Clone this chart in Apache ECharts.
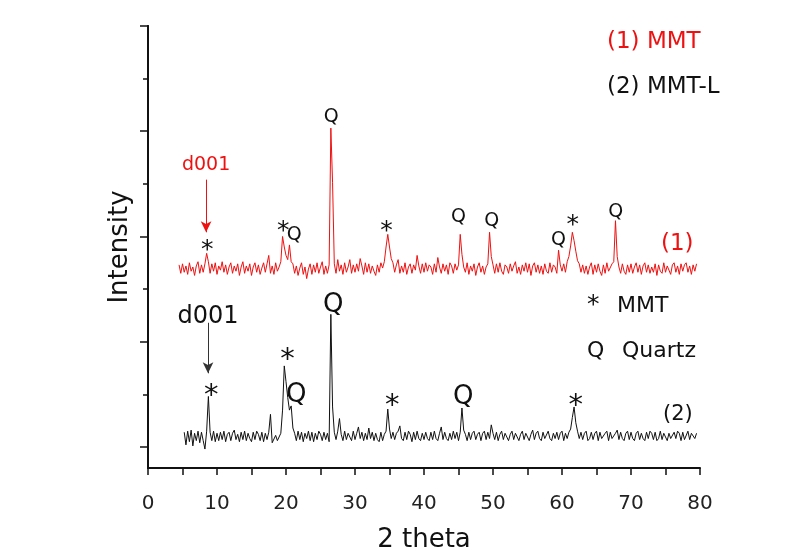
<!DOCTYPE html>
<html><head><meta charset="utf-8">
<script src="https://cdn.jsdelivr.net/npm/echarts@6/dist/echarts.min.js"></script>
<style>html,body{margin:0;padding:0;background:#fff}#c{width:798px;height:558px}</style>
</head><body><div id="c"></div>
<script>
// 2-theta sampling grid (degrees)
const thetaStart = 4.5;
const thetaStep = 0.25;

// (1) MMT intensity (a.u., offset curve)
const mmt = [173,165,
174,166,172,164, 175,167,171,163, 172,176,165,173, 166,174,184,176,
165,174,167,175, 164,172,168,176, 166,173,164,171, 175,165,172,167,
174,163,171,176, 165,172,167,174, 163,171,175,166, 173,164,170,175,
166,174,182,165, 172,164,175,167, 171,176,200,190, 182,178,192,176,
174,165,172,163, 170,175,164,171, 160,169,174,164, 173,166,175,165,
171,176,164,172, 165,173,303,251, 174,165,178,167, 173,164,175,166,
171,178,165,173, 166,174,167,179, 172,164,175,166, 174,165,172,167,
163,173,166,175, 170,176,190,202, 190,179,175,166, 173,178,165,172,
166,175,164,171, 174,165,173,168, 182,172,165,174, 166,175,167,173,
171,164,174,166, 180,171,165,174, 167,173,164,175, 172,165,174,168,
173,202,183,171, 166,175,164,172, 167,174,163,171, 175,166,172,164,
171,174,204,181, 173,165,174,166, 175,167,164,173, 171,165,174,167,
172,176,165,171, 164,173,167,175, 166,174,163,172, 175,166,173,165,
172,164,174,167, 165,175,166,173, 171,165,187,173, 167,174,166,176,
181,191,204,196, 186,177,174,166, 173,165,172,164, 171,175,164,173,
166,174,167,163, 173,165,175,167, 166,174,176,215, 181,171,165,174,
167,164,173,166, 174,165,171,175, 166,173,164,172, 175,166,173,165,
171,166,174,163, 173,167,165,175, 166,172,171,164, 173,175,166,172,
164,174,167,173, 175,166,172,164, 173,167,174];

// (2) MMT-L intensity (a.u.)
const mmtL = [null,null,
null,14,2,15, 5,16,1,13, 6,15,4,14, 6,-2,15,48,
14,6,15,5, 13,6,14,7, 15,5,12,14, 6,13,16,7,
12,5,14,7, 15,6,13,8, 5,14,7,15, 12,6,14,5,
13,7,14,31, 4,3,11,6, 5,13,35,77, 62,47,35,39,
18,13,6,15, 7,14,5,13, 8,15,6,14, 5,13,7,15,
12,6,14,7, 13,5,126,38, 14,7,15,27, 12,6,15,7,
13,14,6,15, 7,13,19,8, 14,6,13,7, 18,8,14,6,
13,7,5,14, 6,12,15,36, 17,8,14,7, 13,15,20,8,
6,14,7,15, 12,5,14,7, 15,8,6,13, 7,14,8,6,
14,7,15,8, 6,13,19,7, 14,8,6,13, 7,15,8,14,
6,14,37,16, 12,6,14,7, 13,15,7,12, 14,6,13,15,
7,14,8,21, 13,7,14,6, 12,15,7,13, 14,6,12,15,
7,13,14,6, 12,15,7,13, 14,6,12,16, 7,13,15,8,
6,14,8,7, 15,8,6,13, 8,14,7,13, 15,6,13,8,
14,17,28,38, 23,15,8,14, 7,13,15,6, 8,14,7,13,
15,6,14,8, 7,13,15,6, 14,8,7,13, 16,7,14,8,
6,13,15,7, 14,8,6,13, 15,7,13,8, 6,14,8,15,
13,7,14,6, 8,15,7,13, 14,6,13,8, 7,14,8,15,
13,6,14,7, 8,15,7,13, 14,8,13];

// peak markers: [2theta, intensity, text]
const mmtMarks = [[8.57,187,'*'],[19.6,205,'*'],[21.2,201,'Q'],[26.57,313,'Q'],[34.55,205,'*'],
  [45.0,218,'Q'],[49.8,215,'Q'],[59.5,197,'Q'],[61.56,210,'*'],[67.8,223,'Q']];
const mmtLMarks = [[9.15,48,'*'],[20.2,82,'*'],[21.5,49,'Q'],[26.86,135,'Q'],[35.4,38,'*'],
  [45.7,47,'Q'],[62.0,38,'*']];
// d001 labels and arrows: [2theta, labelY, arrowFrom, arrowTo]
const d001Red = [8.42, 268, 254, 204];
const d001Black = [8.7, 124, 118, 70];
const curveTags = [[76.7,193,'(1)'],[76.8,31,'(2)']];
const xTicks = [0,10,20,30,40,50,60,70,80];
const yMajor = [0,100,200,300,400];
const yMinor = [50,150,250,350];

const RED = '#ee1111';
const INK = '#111';
const FONT = 'DejaVu Sans';

const pts = arr => arr.map((v,i)=>[thetaStart + i*thetaStep, v]);
const markItems = (arr, qSize, starSize) => arr.map(m => ({value:[m[0],m[1]],
  label:{formatter:m[2], fontSize: m[2]==='*' ? starSize : qSize, color:INK}}));
const labelSeries = data => ({type:'scatter',symbolSize:0,silent:true,data:data,
  itemStyle:{opacity:1},
  label:{show:true,position:'inside',opacity:1,fontFamily:FONT,textBorderWidth:0}});

const chart = echarts.init(document.getElementById('c'));
chart.setOption({
  animation:false,
  backgroundColor:'#fff',
  textStyle:{fontFamily:FONT},
  grid:{left:148,right:98,top:26,bottom:90},
  xAxis:{type:'value',min:0,max:80,interval:5,
    name:'2 theta',nameLocation:'middle',nameGap:59,
    nameTextStyle:{fontSize:26,color:INK,fontFamily:FONT},
    axisLine:{onZero:false,lineStyle:{color:INK,width:2}},
    axisTick:{length:7,lineStyle:{color:INK,width:1.5}},
    axisLabel:{margin:26,fontSize:20,color:'#222',fontFamily:FONT,
      formatter:v=> xTicks.indexOf(v)>=0 ? String(v) : ''},
    splitLine:{show:false}},
  yAxis:[{type:'value',min:-20,max:400,
    name:'Intensity',nameLocation:'middle',nameGap:15,nameRotate:90,
    nameTextStyle:{fontSize:26,color:INK,fontFamily:FONT},
    axisLine:{show:true,onZero:false,lineStyle:{color:INK,width:2}},
    axisTick:{show:true,length:8,customValues:yMajor,lineStyle:{color:INK,width:1.5}},
    axisLabel:{show:false},splitLine:{show:false}},
   {type:'value',min:-20,max:400,position:'left',
    axisLine:{show:true,onZero:false,lineStyle:{color:INK,width:2}},
    axisTick:{show:true,length:5,customValues:yMinor,lineStyle:{color:INK,width:1.5}},
    axisLabel:{show:false},splitLine:{show:false}}],
  series:[
    {type:'line',name:'MMT',data:pts(mmt),showSymbol:false,symbol:'none',
     lineStyle:{color:RED,width:1},itemStyle:{color:RED},
     markLine:{silent:true,symbol:['none','arrow'],symbolSize:[8,11],label:{show:false},
       lineStyle:{color:RED,width:1,type:'solid'},
       data:[[{coord:[d001Red[0],d001Red[2]]},{coord:[d001Red[0],d001Red[3]]}]]}},
    {type:'line',name:'MMT-L',data:pts(mmtL),showSymbol:false,symbol:'none',connectNulls:false,
     lineStyle:{color:INK,width:1},itemStyle:{color:INK},
     markLine:{silent:true,symbol:['none','arrow'],symbolSize:[8,11],label:{show:false},
       lineStyle:{color:'#333',width:1,type:'solid'},
       data:[[{coord:[d001Black[0],d001Black[2]]},{coord:[d001Black[0],d001Black[3]]}]]}},
    labelSeries(markItems(mmtMarks,19,25)),
    labelSeries(markItems(mmtLMarks,26,29)),
    labelSeries([
      {value:[d001Red[0],d001Red[1]],label:{formatter:'d001',fontSize:19,color:RED}},
      {value:[d001Black[0],d001Black[1]],label:{formatter:'d001',fontSize:24,color:INK}},
      {value:[curveTags[0][0],curveTags[0][1]],label:{formatter:curveTags[0][2],fontSize:23,color:RED}},
      {value:[curveTags[1][0],curveTags[1][1]],label:{formatter:curveTags[1][2],fontSize:21,color:INK}}])
  ],
  graphic:[
    {type:'text',left:607,top:31,style:{text:'(1) MMT',fill:RED,font:'23px "DejaVu Sans"'}},
    {type:'text',left:607,top:76,style:{text:'(2) MMT-L',fill:INK,font:'23px "DejaVu Sans"'}},
    {type:'text',left:587,top:293,style:{text:'*',fill:INK,font:'25px "DejaVu Sans"'}},
    {type:'text',left:617,top:295,style:{text:'MMT',fill:INK,font:'22px "DejaVu Sans"'}},
    {type:'text',left:587,top:340,style:{text:'Q',fill:INK,font:'22px "DejaVu Sans"'}},
    {type:'text',left:622,top:340,style:{text:'Quartz',fill:INK,font:'22px "DejaVu Sans"'}}
  ]
});
</script></body></html>
